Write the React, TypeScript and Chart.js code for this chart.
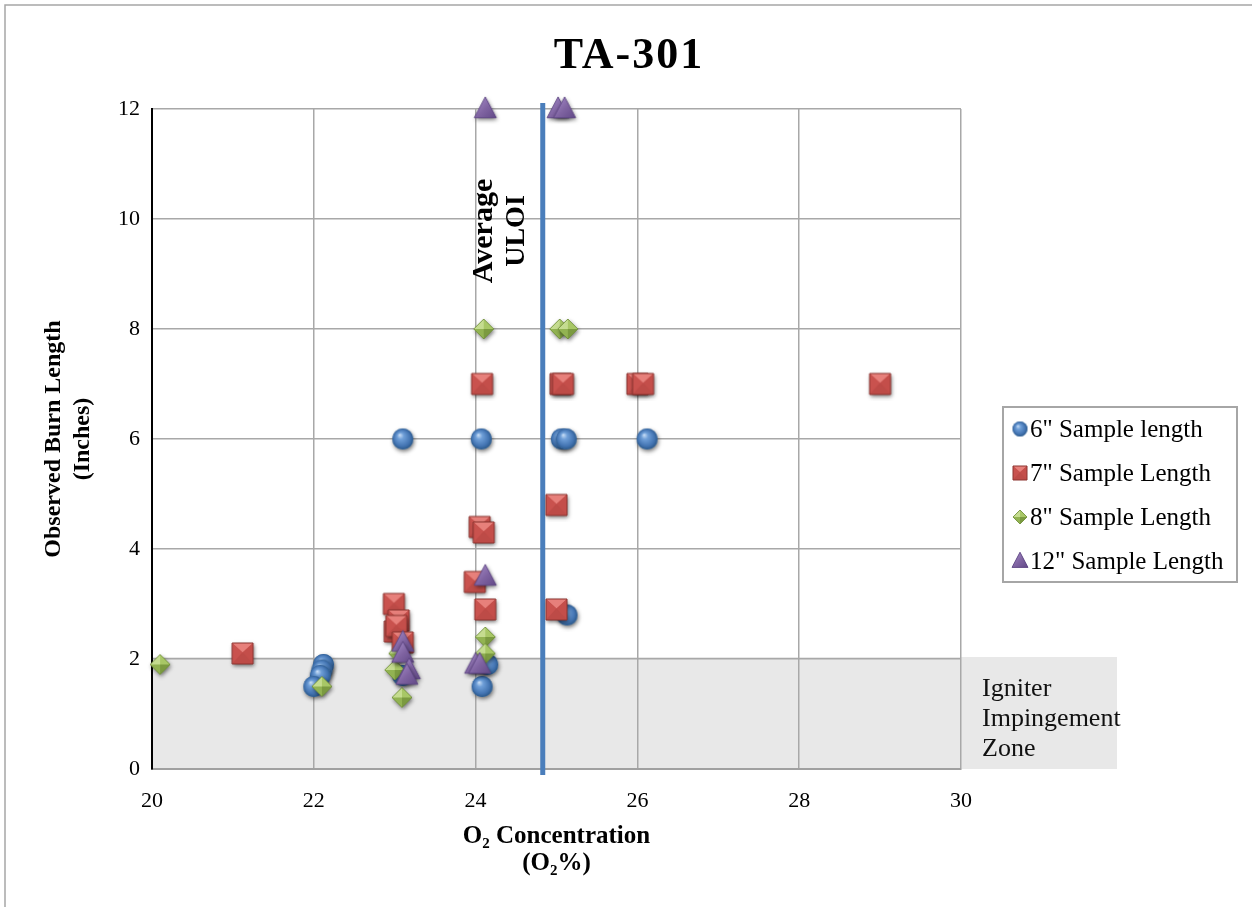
import React, { useEffect, useRef } from "react";
import { Chart, registerables } from "chart.js";

Chart.register(...registerables);

// ---------------- data ----------------
const TITLE = "TA-301";
const X_TITLE = ["O₂ Concentration", "(O₂%)"];
const Y_TITLE = ["Observed Burn Length", "(Inches)"];
const X_TICKS = [20, 22, 24, 26, 28, 30];
const Y_TICKS = [0, 2, 4, 6, 8, 10, 12];
const SERIES_NAMES = [
  '6" Sample length',
  '7" Sample Length',
  '8" Sample Length',
  '12" Sample Length',
];

// 6" sample length (blue spheres)
const x6 = [23.1, 24.07, 25.06, 25.12, 26.12, 25.13, 24.15, 24.08, 22.12, 22.1, 22.08, 22.0, 23.1];
const y6 = [6, 6, 6, 6, 6, 2.8, 1.9, 1.5, 1.9, 1.8, 1.7, 1.5, 1.7];

// 7" sample length (red squares)
const x7 = [21.12, 22.99, 23.05, 23.0, 23.02, 23.1, 23.99, 24.12, 24.05, 24.1, 24.08, 25.0, 25.0, 25.05, 25.08, 26.0, 26.07, 29.0];
const y7 = [2.1, 3.0, 2.7, 2.5, 2.6, 2.3, 3.4, 2.9, 4.4, 4.3, 7, 4.8, 2.9, 7, 7, 7, 7, 7];

// 8" sample length (green diamonds)
const x8 = [20.1, 22.1, 23.09, 23.0, 23.05, 24.12, 24.12, 24.1, 25.04, 25.14];
const y8 = [1.9, 1.5, 1.3, 1.8, 2.1, 2.4, 2.1, 8, 8, 8];

// 12" sample length (purple triangles)
const x12 = [24.12, 25.02, 25.1, 24.12, 24.0, 24.05, 23.1, 23.1, 23.18, 23.15];
const y12 = [12, 12, 12, 3.5, 1.9, 1.9, 2.3, 2.1, 1.8, 1.7];

const ULOI = 24.83;
const ULOI_SPAN = [-0.11, 12.11];
const ULOI_LABEL = ["Average", "ULOI"];
const ZONE_Y = [0, 2];
const ZONE_LABEL = ["Igniter", "Impingement", "Zone"];

// ---------------- markers ----------------
type Kind = "circle" | "square" | "diamond" | "triangle";

function makeMarker(kind: Kind, size: number, shadow: boolean): HTMLCanvasElement {
  const pad = shadow ? 6 : 2;
  const S = Math.ceil(size + pad * 2);
  const c = document.createElement("canvas");
  c.width = S;
  c.height = S;
  const ctx = c.getContext("2d")!;
  const cx = S / 2;
  const cy = S / 2;
  const r = size / 2;

  const outline = () => {
    ctx.beginPath();
    if (kind === "circle") ctx.arc(cx, cy, r, 0, Math.PI * 2);
    else if (kind === "square") ctx.rect(cx - r, cy - r, 2 * r, 2 * r);
    else if (kind === "diamond") {
      ctx.moveTo(cx, cy - r);
      ctx.lineTo(cx + r, cy);
      ctx.lineTo(cx, cy + r);
      ctx.lineTo(cx - r, cy);
      ctx.closePath();
    } else {
      ctx.moveTo(cx, cy - r * 1.1);
      ctx.lineTo(cx + r, cy + r * 0.8);
      ctx.lineTo(cx - r, cy + r * 0.8);
      ctx.closePath();
    }
  };
  const tri = (ax: number, ay: number, bx: number, by: number, ccx: number, ccy: number, col: string) => {
    ctx.beginPath();
    ctx.moveTo(ax, ay);
    ctx.lineTo(bx, by);
    ctx.lineTo(ccx, ccy);
    ctx.closePath();
    ctx.fillStyle = col;
    ctx.fill();
  };

  const base: Record<Kind, string> = {
    circle: "#4f81bd",
    square: "#c0504d",
    diamond: "#9bbb59",
    triangle: "#8064a2",
  };

  ctx.save();
  if (shadow) {
    ctx.shadowColor = "rgba(0,0,0,0.55)";
    ctx.shadowBlur = 4;
    ctx.shadowOffsetX = 1;
    ctx.shadowOffsetY = 2;
  }
  outline();
  ctx.fillStyle = base[kind];
  ctx.fill();
  ctx.restore();

  if (kind === "circle") {
    const g = ctx.createRadialGradient(cx - r * 0.3, cy - r * 0.4, 0, cx, cy, r * 1.05);
    g.addColorStop(0, "#cfe2f8");
    g.addColorStop(0.3, "#6f9fd8");
    g.addColorStop(0.75, "#4374b2");
    g.addColorStop(1, "#285584");
    outline();
    ctx.fillStyle = g;
    ctx.fill();
  } else if (kind === "square") {
    const cyy = cy - r * 0.1;
    tri(cx - r, cy - r, cx + r, cy - r, cx, cyy, "#e7807b");
    tri(cx - r, cy - r, cx, cyy, cx - r, cy + r, "#c9524e");
    tri(cx + r, cy - r, cx + r, cy + r, cx, cyy, "#c44e4a");
    tri(cx - r, cy + r, cx + r, cy + r, cx, cyy, "#bd4b47");
    ctx.lineWidth = 1;
    ctx.strokeStyle = "#8c3431";
    outline();
    ctx.stroke();
  } else if (kind === "diamond") {
    tri(cx, cy - r, cx - r, cy, cx, cy, "#c5dc90");
    tri(cx, cy - r, cx + r, cy, cx, cy, "#a8c766");
    tri(cx - r, cy, cx, cy + r, cx, cy, "#92b352");
    tri(cx + r, cy, cx, cy + r, cx, cy, "#7b9a40");
    ctx.lineWidth = 0.8;
    ctx.strokeStyle = "#6c8b36";
    outline();
    ctx.stroke();
  } else {
    const g = ctx.createLinearGradient(cx - r, cy - r, cx + r, cy + r);
    g.addColorStop(0, "#a88fcb");
    g.addColorStop(0.5, "#8064a2");
    g.addColorStop(1, "#5e4684");
    outline();
    ctx.fillStyle = g;
    ctx.fill();
    ctx.lineWidth = 0.8;
    ctx.strokeStyle = "#5a4380";
    outline();
    ctx.stroke();
  }
  return c;
}

const pts = (xs: number[], ys: number[]) => xs.map((x, i) => ({ x, y: ys[i] }));

export default function App() {
  const ref = useRef<HTMLCanvasElement | null>(null);

  useEffect(() => {
    const canvas = ref.current;
    if (!canvas) return;

    const kinds: Kind[] = ["circle", "square", "diamond", "triangle"];
    const sizes = [21, 21, 20, 22];
    const legendSizes = [15, 14, 14, 16];
    const markers = kinds.map((k, i) => makeMarker(k, sizes[i], true));
    const legendMarkers = kinds.map((k, i) => makeMarker(k, legendSizes[i], false));
    const seriesPts = [pts(x6, y6), pts(x7, y7), pts(x8, y8), pts(x12, y12)];

    const serif = "'Liberation Serif', 'Times New Roman', serif";

    const decor = {
      id: "decor",
      beforeDraw(chart: any) {
        const { ctx, chartArea, scales } = chart;
        const y = scales.y;
        ctx.save();
        const top = y.getPixelForValue(ZONE_Y[1]) - 2;
        const bottom = y.getPixelForValue(ZONE_Y[0]);
        ctx.fillStyle = "#e8e8e8";
        ctx.fillRect(chartArea.left, top, 1117 - chartArea.left, bottom - top);
        ctx.restore();
      },
      afterDraw(chart: any) {
        const { ctx, scales, width } = chart;
        const xs = scales.x;
        ctx.save();
        // outer frame
        ctx.strokeStyle = "#a6a6a6";
        ctx.lineWidth = 1.5;
        ctx.beginPath();
        ctx.moveTo(5, chart.height);
        ctx.lineTo(5, 5);
        ctx.lineTo(width, 5);
        ctx.stroke();

        // title
        ctx.fillStyle = "#000";
        ctx.font = `bold 44px ${serif}`;
        ctx.textAlign = "center";
        ctx.textBaseline = "alphabetic";
        try {
          (ctx as any).letterSpacing = "2px";
        } catch (e) {}
        ctx.fillText(TITLE, 629, 68);
        try {
          (ctx as any).letterSpacing = "0px";
        } catch (e) {}

        // Average ULOI label
        const ux = xs.getPixelForValue(ULOI);
        ctx.textAlign = "center";
        ctx.textBaseline = "middle";
        ULOI_LABEL.forEach((t, i) => {
          ctx.save();
          ctx.font = `bold ${i === 0 ? 30 : 28}px ${serif}`;
          ctx.translate(ux - 58 + i * 32, 231);
          ctx.rotate(-Math.PI / 2);
          ctx.fillText(t, 0, 0);
          ctx.restore();
        });

        // Igniter zone text
        ctx.font = `26px ${serif}`;
        ctx.textAlign = "left";
        ctx.textBaseline = "alphabetic";
        ctx.fillStyle = "#111";
        ZONE_LABEL.forEach((t, i) => ctx.fillText(t, 982, 696 + i * 30));

        // legend
        ctx.strokeStyle = "#a6a6a6";
        ctx.lineWidth = 2;
        ctx.strokeRect(1003, 407, 234, 175);
        ctx.font = `25px ${serif}`;
        ctx.fillStyle = "#000";
        ctx.textBaseline = "alphabetic";
        SERIES_NAMES.forEach((name, i) => {
          const cy = 429 + i * 44;
          const m = legendMarkers[i];
          ctx.drawImage(m, 1020 - m.width / 2, cy - m.height / 2);
          ctx.fillText(name, 1030, cy + 8);
        });
        ctx.restore();
      },
    };

    const colors = ["#4f81bd", "#c0504d", "#9bbb59", "#8064a2"];

    const chart = new Chart(canvas, {
      type: "scatter",
      data: {
        datasets: [
          ...SERIES_NAMES.map((name, i) => ({
            label: name,
            data: seriesPts[i],
            pointStyle: markers[i] as any,
            pointRadius: 10,
            pointHoverRadius: 10,
            backgroundColor: colors[i],
            borderColor: colors[i],
            clip: false as any,
            order: 4 - i,
          })),
          {
            type: "line" as const,
            label: "Average ULOI",
            data: ULOI_SPAN.map((y) => ({ x: ULOI, y })),
            borderColor: "#4a7ebb",
            borderWidth: 5,
            pointRadius: 0,
            showLine: true,
            clip: false as any,
            order: 10,
          } as any,
        ],
      },
      options: {
        responsive: false,
        animation: false,
        events: [],
        layout: { padding: { left: 0, right: 291, top: 109, bottom: 0 } },
        plugins: {
          legend: { display: false },
          title: { display: false },
          tooltip: { enabled: false },
        },
        scales: {
          x: {
            type: "linear",
            min: 20,
            max: 30,
            afterBuildTicks: (s: any) => {
              s.ticks = X_TICKS.map((v) => ({ value: v }));
            },
            afterFit: (s: any) => {
              s.height = 138;
            },
            grid: { color: "#a8a8a8", lineWidth: 1.5, drawTicks: false },
            border: { color: "#a0a0a0", width: 2 },
            ticks: {
              padding: 19,
              color: "#000",
              font: { family: serif, size: 22 },
            },
            title: {
              display: true,
              text: X_TITLE,
              color: "#000",
              font: { family: serif, size: 25, weight: "bold", lineHeight: "27px" } as any,
              padding: { top: 0, bottom: 29.5 },
            },
          },
          y: {
            type: "linear",
            min: 0,
            max: 12,
            afterBuildTicks: (s: any) => {
              s.ticks = Y_TICKS.map((v) => ({ value: v }));
            },
            afterFit: (s: any) => {
              s.width = 152;
            },
            grid: { color: "#a8a8a8", lineWidth: 1.5, drawTicks: false },
            border: { color: "#000", width: 2 },
            ticks: {
              padding: 12,
              color: "#000",
              font: { family: serif, size: 22 },
            },
            title: {
              display: true,
              text: Y_TITLE,
              color: "#000",
              font: { family: serif, size: 24, weight: "bold", lineHeight: "29px" } as any,
              padding: { top: 39, bottom: 0 },
            },
          },
        },
      },
      plugins: [decor],
    });

    return () => chart.destroy();
  }, []);

  return (
    <>
      <style>{`body{margin:0;background:#fff}`}</style>
      <canvas ref={ref} width={1252} height={907} style={{ display: "block" }} />
    </>
  );
}
